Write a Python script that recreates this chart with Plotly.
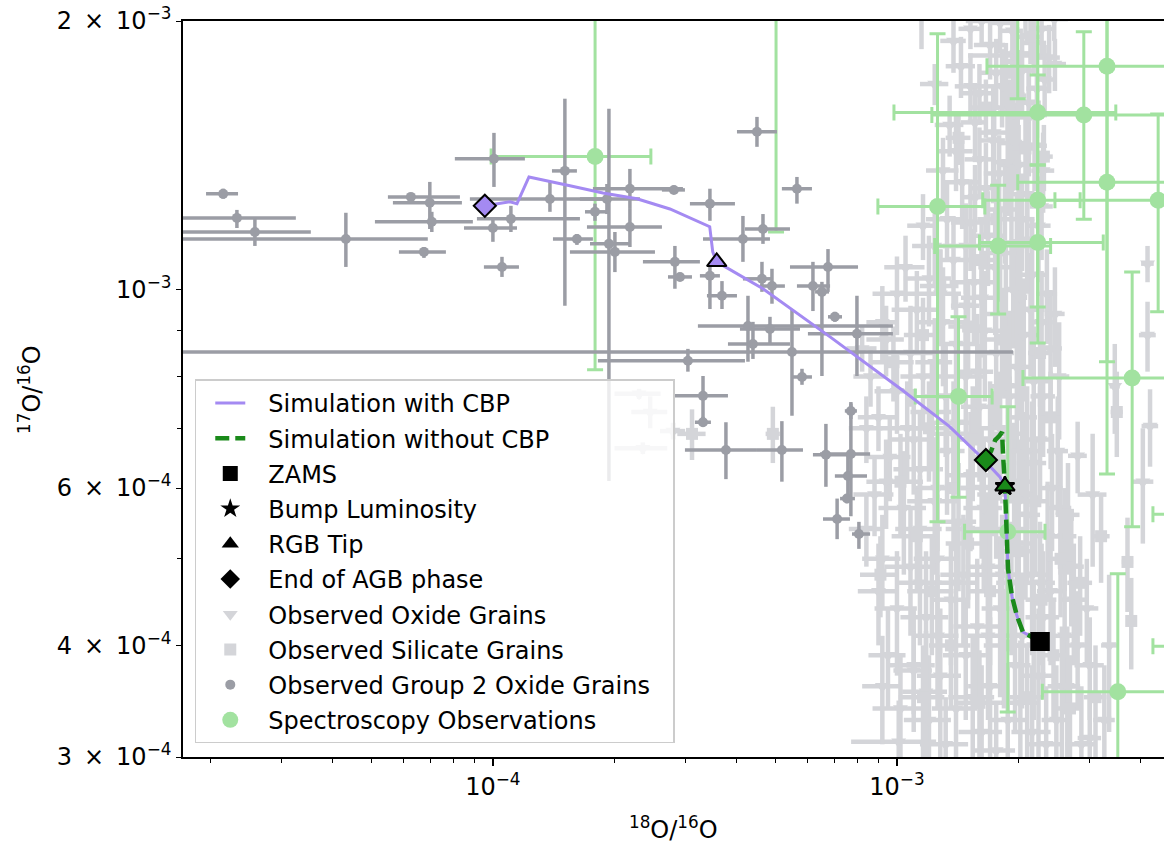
import math
import plotly.graph_objects as go

UNIT = 1e-4  # every isotope ratio below is listed in units of 10^-4

# ---------------- stellar model tracks (18O/16O, 17O/16O) ----------------
cbp_o18 = [22.6, 20.5, 19.8, 19.26, 18.83, 18.73, 18.62, 18.5, 18.0, 16.05,
           13.5, 10.24, 6.83, 4.66, 3.58, 3.50, 3.44, 3.31, 2.742, 2.272,
           1.872, 1.551, 1.285, 1.228, 1.147, 1.102, 0.955]
cbp_o17 = [4.04, 4.14, 4.32, 4.54, 4.87, 5.30, 5.79, 6.03, 6.17, 6.52,
           7.03, 7.74, 8.86, 10.03, 10.75, 11.03, 11.77, 11.86, 12.32, 12.65,
           12.84, 13.08, 13.31, 13.38, 12.49, 12.55, 12.42]
nocbp_o18 = [22.6, 20.5, 19.8, 19.26, 18.83, 18.73, 18.62, 18.5, 18.3, 18.2,
             17.9, 17.5, 17.1, 16.6]
nocbp_o17 = [4.04, 4.14, 4.32, 4.54, 4.87, 5.30, 5.79, 6.03, 6.55, 6.93,
             6.86, 6.79, 6.60, 6.45]
# index of each evolutionary stage along the tracks
cbp_stage = {"zams": 0, "bump": 7, "tip": 14, "agb": 26}
nocbp_stage = {"zams": 0, "bump": 7, "tip": 7, "agb": 13}

# ---------------- presolar oxide grains ----------------
oxide_o18 = [11.5, 15.2, 14.4, 17.0, 19.3, 20.4, 21.8, 23.8, 18.2, 16.0,
             22.2, 20.8, 24.5, 18.8, 13.5, 15.6, 17.4, 19.6, 21.2, 20.0,
             17.9, 16.0, 14.5, 15.6, 18.5, 21.0, 23.0, 13.3, 11.6, 16.8,
             19.8, 22.4, 14.8, 17.3, 19.0, 10.5, 12.0, 13.8, 15.5, 17.5,
             19.4, 21.6, 23.5, 11.2, 13.0, 14.8, 16.5, 18.6, 20.6, 22.8,
             9.4, 10.8, 12.4, 14.0, 15.8, 17.6, 19.8, 21.8, 24.0, 8.6,
             10.0, 13.2, 9.0, 10.6, 12.2, 14.1, 16.0, 18.0, 20.4, 22.6,
             9.6, 11.4, 13.3, 15.2, 17.2, 19.5, 21.6, 24.2, 8.8, 10.4,
             12.4, 14.2, 16.4, 18.7, 21.0, 23.6, 28.0, 42.3, 40.6, 41.7,
             41.7, 30.5, 34.6, 9.2, 10.8, 12.6, 14.6, 16.8, 19.2, 21.6,
             24.0, 27.0, 10.0, 11.8, 13.6, 15.8, 18.0, 20.4, 23.0, 26.0,
             29.5, 9.5, 11.0, 12.8, 14.8, 17.0, 19.6, 22.4, 25.6, 30.0,
             10.2, 12.0, 14.0, 16.2, 18.8, 21.6, 24.8, 28.6, 10.1, 11.0,
             33.5, 19.2, 20.2, 19.0, 20.8, 19.4, 19.5, 24.6, 2.45, 2.3,
             2.35, 2.79, 12.4, 13.8, 16.2, 18.0, 22.8, 19.8, 17.6, 21.2,
             15.2, 23.2, 19.9, 14.0, 16.6, 18.8, 21.9, 13.0, 22.8, 15.2,
             20.4, 12.4, 18.0, 10.0, 12.8, 16.2, 21.4, 24.6, 9.2, 11.6,
             14.8, 18.8, 23.0, 8.2, 25.2, 8.4, 11.0, 13.8, 17.0, 21.0,
             25.0, 9.4, 12.6, 16.2, 20.0, 25.4, 11.4, 15.0, 19.8, 26.0,
             8.4, 9.0, 11.4, 14.0, 18.2, 22.6, 27.4, 12.6, 16.8, 21.8,
             28.0, 9.2, 11.8, 15.4, 20.2, 26.4, 32.6, 13.2, 17.6, 23.4,
             30.0]
oxide_o17 = [20.8, 19.6, 17.8, 18.8, 19.5, 17.6, 18.9, 18.2, 16.9, 16.6,
             16.8, 20.4, 20.1, 15.8, 15.3, 15.4, 15.0, 14.6, 15.6, 13.8,
             13.5, 14.0, 13.2, 12.7, 12.3, 12.8, 13.6, 12.0, 11.8, 11.5,
             11.3, 11.8, 11.2, 14.7, 16.0, 10.6, 10.3, 10.8, 10.2, 10.6,
             10.0, 10.4, 9.9, 9.5, 9.2, 9.6, 9.0, 9.4, 8.9, 9.2,
             8.8, 8.5, 8.3, 8.7, 8.1, 8.5, 8.2, 7.9, 8.6, 8.0,
             7.7, 7.6, 7.2, 7.0, 7.3, 7.1, 7.4, 7.0, 7.2, 6.8,
             6.5, 6.3, 6.6, 6.2, 6.5, 6.1, 6.4, 6.0, 5.9, 5.7,
             5.8, 5.5, 5.7, 5.4, 5.6, 5.3, 6.52, 7.04, 6.10, 8.9,
             10.7, 5.9, 7.8, 5.0, 4.9, 5.0, 4.8, 4.9, 4.7, 4.8,
             4.6, 4.9, 4.4, 4.3, 4.5, 4.2, 4.4, 4.1, 4.3, 4.1,
             4.4, 3.9, 3.8, 3.7, 3.9, 3.6, 3.8, 3.7, 3.6, 3.8,
             3.4, 3.3, 3.4, 3.2, 3.3, 3.2, 3.3, 3.1, 3.12, 3.75,
             4.0, 13.0, 9.8, 7.6, 5.9, 18.0, 18.3, 17.9, 7.30, 7.65,
             6.65, 6.95, 17.0, 19.0, 20.0, 19.9, 19.6, 18.4, 17.5, 16.2,
             16.9, 17.2, 16.5, 14.3, 13.0, 13.9, 14.5, 13.6, 12.4, 11.9,
             12.0, 11.2, 11.0, 9.9, 9.9, 9.8, 9.5, 9.4, 9.2, 8.0,
             8.0, 7.8, 7.6, 8.6, 8.0, 7.0, 6.8, 6.9, 6.8, 6.6,
             6.6, 6.1, 6.0, 6.0, 5.8, 5.7, 5.4, 5.4, 5.2, 5.3,
             5.4, 4.6, 4.7, 4.7, 4.8, 4.7, 4.5, 4.1, 4.1, 4.0,
             4.0, 3.6, 3.55, 3.5, 3.45, 3.6, 3.3, 3.1, 3.05, 3.1,
             3.15]
oxide_o18_err = [0.5, 1.0, 1.2, 1.5, 1.2, 1.8, 1.6, 1.5, 1.4, 1.6,
                 1.3, 2.5, 2.0, 1.0, 1.1, 1.2, 1.5, 1.7, 1.6, 2.2,
                 1.5, 1.3, 1.4, 1.0, 1.8, 1.8, 1.5, 1.5, 1.0, 1.6,
                 2.0, 1.6, 1.8, 1.2, 1.4, 1.2, 1.6, 1.4, 2.0, 1.6,
                 1.8, 2.0, 1.4, 1.5, 1.8, 1.2, 1.8, 2.2, 1.8, 1.5,
                 1.0, 1.5, 1.3, 1.6, 1.5, 1.9, 1.6, 2.0, 1.6, 0.8,
                 1.2, 1.5, 1.0, 1.5, 1.4, 1.8, 1.6, 2.0, 1.8, 1.6,
                 1.2, 1.6, 1.4, 1.9, 1.6, 2.0, 1.8, 1.5, 1.0, 1.4,
                 1.8, 1.5, 1.8, 2.2, 1.6, 1.6, 1.5, 2.0, 2.5, 2.0,
                 1.5, 2.5, 1.0, 1.0, 1.5, 1.6, 1.8, 2.0, 1.6, 2.2,
                 1.8, 2.0, 1.2, 1.6, 1.5, 2.0, 1.8, 2.0, 2.2, 1.8,
                 2.0, 1.0, 1.4, 1.6, 1.8, 2.0, 1.8, 2.2, 2.0, 2.5,
                 1.5, 1.6, 1.8, 2.0, 2.0, 2.4, 2.0, 2.5, 2.4, 1.2,
                 1.5, 0.8, 0.8, 0.8, 0.8, 0.8, 4.5, 1.6, 0.25, 0.3,
                 0.35, 0.2, 1.0, 1.0, 1.4, 1.2, 1.5, 1.6, 1.5, 1.5,
                 1.3, 1.2, 1.0, 1.4, 1.5, 1.5, 1.6, 1.2, 1.5, 1.6,
                 1.5, 1.5, 1.8, 1.3, 1.6, 1.8, 1.8, 1.4, 0.8, 1.4,
                 1.6, 1.8, 1.6, 0.7, 1.5, 0.8, 1.5, 1.7, 1.8, 1.8,
                 1.5, 1.0, 1.6, 1.8, 2.0, 1.6, 1.5, 1.8, 2.0, 1.8,
                 0.8, 1.0, 1.5, 1.8, 2.0, 2.0, 2.2, 1.6, 2.0, 2.2,
                 2.2, 1.0, 1.5, 2.0, 2.2, 2.0, 2.0, 1.8, 2.0, 2.2,
                 2.0]
oxide_o17_err = [2.2, 1.0, 1.4, 1.6, 2.0, 1.8, 1.5, 1.6, 1.7, 1.3,
                 2.0, 1.2, 1.1, 1.2, 1.2, 1.5, 1.8, 1.6, 2.2, 1.5,
                 1.4, 1.2, 1.5, 1.1, 1.6, 1.8, 1.4, 1.2, 1.0, 1.4,
                 1.5, 1.6, 1.3, 2.2, 1.2, 0.9, 1.2, 1.3, 1.5, 1.7,
                 1.4, 1.6, 1.2, 1.0, 1.4, 1.6, 1.5, 1.8, 1.4, 1.3,
                 0.8, 1.1, 1.0, 1.2, 1.3, 1.5, 1.6, 1.2, 1.4, 0.6,
                 0.8, 1.1, 0.6, 0.9, 1.0, 1.2, 1.3, 1.1, 1.4, 1.0,
                 0.7, 1.0, 1.0, 1.1, 1.2, 1.0, 1.1, 0.9, 0.6, 0.9,
                 1.0, 0.9, 1.1, 1.0, 0.9, 0.8, 0.6, 0.7, 0.9, 0.8,
                 0.5, 1.0, 0.9, 0.6, 0.8, 0.9, 0.8, 1.0, 0.8, 0.9,
                 0.8, 0.7, 0.7, 0.8, 0.7, 0.8, 0.9, 0.7, 0.8, 0.7,
                 0.6, 0.5, 0.6, 0.7, 0.6, 0.7, 0.6, 0.7, 0.6, 0.5,
                 0.5, 0.6, 0.5, 0.6, 0.5, 0.6, 0.5, 0.5, 0.35, 0.4,
                 0.8, 3.0, 2.6, 1.8, 1.4, 2.5, 0.6, 1.2, 0.3, 0.1,
                 0.1, 0.15, 0.9, 1.5, 1.2, 1.5, 1.4, 1.8, 1.6, 1.5,
                 1.5, 1.6, 2.0, 1.4, 1.6, 1.8, 1.6, 1.2, 1.6, 1.4,
                 1.5, 1.1, 1.3, 1.0, 1.2, 1.4, 1.5, 1.2, 0.9, 1.0,
                 1.2, 1.3, 1.1, 0.5, 1.2, 0.6, 0.9, 1.0, 1.1, 1.2,
                 1.0, 0.7, 0.9, 1.0, 1.0, 0.9, 0.8, 0.9, 0.9, 0.7,
                 0.5, 0.6, 0.7, 0.8, 0.8, 0.8, 0.7, 0.7, 0.8, 0.7,
                 0.6, 0.5, 0.6, 0.6, 0.6, 0.6, 0.5, 0.4, 0.4, 0.5,
                 0.4]

# ---------------- presolar silicate grains ----------------
silicate_o18 = [23.1, 18.6, 21.4, 16.6, 14.2, 17.6, 20.8, 12.8, 16.2, 21.0,
                11.6, 15.0, 18.2, 22.6, 9.8, 3.11, 4.93, 12.0, 15.4, 19.0,
                24.0, 10.2, 13.8, 17.6, 22.0, 26.5, 11.2, 15.0, 20.0, 25.4,
                32.0, 12.2, 17.0, 22.8, 28.4, 38.0, 13.6, 18.4, 24.4, 31.0,
                11.6, 16.0, 21.0, 26.8, 37.2, 9.1, 35.0]
silicate_o17 = [14.1, 17.5, 19.2, 16.0, 14.8, 12.0, 14.4, 10.1, 10.8, 11.3,
                8.9, 9.1, 8.8, 8.5, 8.3, 6.90, 6.90, 7.0, 6.8, 6.9,
                7.2, 6.1, 6.0, 5.9, 5.8, 5.6, 5.3, 5.2, 5.1, 5.0,
                5.3, 4.6, 4.6, 4.5, 4.7, 4.26, 4.0, 4.0, 3.9, 3.5,
                3.5, 3.45, 3.5, 3.4, 4.96, 4.8, 7.3]
silicate_o18_err = [1.2, 1.6, 1.4, 1.3, 1.0, 1.8, 1.5, 1.4, 1.5, 1.7,
                    1.2, 1.6, 1.8, 1.5, 1.2, 0.25, 0.2, 1.6, 1.8, 2.0,
                    1.4, 1.4, 1.6, 1.8, 1.8, 1.8, 1.5, 1.8, 2.0, 2.0,
                    1.6, 1.6, 2.0, 2.0, 2.0, 1.0, 1.6, 2.0, 2.2, 2.0,
                    1.5, 2.0, 2.0, 2.0, 1.2, 1.0, 1.2]
silicate_o17_err = [1.2, 1.4, 1.3, 1.2, 1.0, 1.3, 1.2, 1.0, 1.2, 1.4,
                    0.9, 1.1, 1.2, 1.1, 0.8, 0.45, 0.5, 0.9, 1.0, 1.1,
                    0.9, 0.8, 0.9, 0.9, 1.0, 0.8, 0.7, 0.8, 0.8, 0.7,
                    0.6, 0.7, 0.8, 0.7, 0.6, 0.5, 0.6, 0.6, 0.6, 0.5,
                    0.5, 0.5, 0.5, 0.5, 0.6, 0.5, 0.8]

# ---------------- Group 2 oxide grains (value, lower, upper) ----------------
g2_o18 = [0.215, 0.2325, 0.2576, 0.4326, 0.675, 0.6266, 0.698, 0.706, 1.006, 1.0,
          1.108, 1.053, 1.507, 1.384, 1.614, 1.789, 1.937, 1.915, 2.004, 2.183,
          2.805, 2.183, 4.503, 5.655, 3.444, 2.821, 2.904, 3.689, 4.157, 4.633,
          6.195, 6.75, 6.52, 7.02, 4.278, 4.849, 4.401, 5.497, 7.96, 3.038,
          5.82, 3.311, 3.311, 3.773, 5.19, 7.69, 6.67, 7.69, 7.56, 7.52,
          7.11, 8.05, 4.66, 4.905, 3.444]
g2_o18_lo = [0.195, 0.159, 0.159, 0.159, 0.5853, 0.5497, 0.5656, 0.5105, 0.805, 0.848,
             0.913, 0.95, 1.40, 0.877, 1.408, 1.69, 1.739, 1.642, 1.551, 1.768,
             2.62, 1.709, 4.018, 5.19, 3.073, 2.351, 2.712, 3.386, 3.311, 4.157,
             5.655, 5.435, 6.27, 6.75, 3.216, 4.087, 3.817, 0.159, 6.02, 1.819,
             5.497, 2.79, 3.162, 2.987, 4.503, 7.43, 6.195, 6.45, 7.02, 7.23,
             6.56, 7.74, 4.205, 4.58, 3.253]
g2_o18_hi = [0.234, 0.3253, 0.3543, 0.690, 0.765, 0.8286, 0.838, 0.892, 1.20, 1.147,
             1.642, 1.16, 1.614, 1.872, 1.768, 1.948, 2.183, 2.312, 2.518, 2.953,
             2.987, 2.62, 5.047, 6.16, 3.972, 3.253, 3.109, 4.018, 4.849, 4.933,
             6.83, 8.01, 6.79, 7.31, 9.77, 5.754, 5.435, 19.37, 9.77, 4.205,
             6.16, 3.817, 3.464, 4.503, 5.853, 7.96, 7.65, 8.58, 8.43, 7.87,
             7.65, 8.58, 5.435, 5.28, 3.646]
g2_o17 = [12.81, 12.04, 11.61, 11.40, 11.03, 12.71, 12.52, 11.92, 14.02, 11.73,
          12.01, 10.61, 13.59, 12.64, 11.40, 12.23, 11.26, 12.64, 11.03, 12.98,
          12.94, 11.76, 15.03, 12.98, 12.49, 10.75, 10.34, 9.85, 11.40, 10.29,
          10.10, 10.61, 9.95, 9.33, 9.11, 9.04, 8.70, 8.52, 8.93, 8.33,
          7.99, 7.61, 7.11, 6.62, 6.62, 7.32, 6.54, 6.55, 6.19, 5.84,
          5.54, 5.33, 11.70, 10.10, 10.37]
g2_o17_lo = [12.65, 11.73, 11.20, 10.61, 10.86, 12.61, 11.70, 11.61, 13.04, 11.32,
             11.61, 10.34, 9.60, 12.23, 11.23, 11.95, 6.11, 12.16, 10.47, 12.32,
             12.81, 11.17, 14.46, 12.49, 11.95, 10.03, 10.23, 9.52, 10.75, 9.95,
             9.47, 9.95, 8.01, 9.21, 8.31, 8.70, 8.37, 7.23, 8.01, 8.10,
             7.83, 7.11, 7.03, 6.14, 6.10, 7.17, 6.02, 5.58, 5.84, 5.77,
             5.26, 5.13, 11.26, 9.65, 9.52]
g2_o17_hi = [12.98, 12.29, 12.01, 12.20, 11.17, 12.81, 13.21, 12.23, 14.99, 11.98,
             12.42, 10.89, 16.37, 13.21, 11.55, 12.49, 15.95, 13.14, 11.61, 13.66,
             13.08, 12.32, 15.62, 13.38, 12.98, 11.20, 10.45, 10.23, 12.10, 10.75,
             10.75, 11.11, 10.21, 9.45, 9.85, 9.33, 9.21, 9.52, 9.85, 8.59,
             8.16, 8.01, 7.21, 7.11, 7.13, 7.46, 7.08, 7.49, 6.55, 5.90,
             5.84, 5.50, 12.16, 10.56, 10.64]

# ---------------- spectroscopic stellar ratios (value, lower, upper) ----------------
spec_o18 = [1.79, 12.6, 22.3, 29.0, 33.1, 33.1, 22.3, 44.3, 17.8, 22.3,
            14.2, 38.2, 18.8, 35.2, 5.02, 19.9, 60.0, 58.0]
spec_o18_lo = [0.99, 8.97, 9.83, 12.2, 16.7, 19.9, 16.3, 24.6, 12.4, 16.0,
               11.1, 20.5, 14.7, 22.9, 4.6, 18.5, 43.0, 43.0]
spec_o18_hi = [2.46, 16.5, 34.8, 53.0, 75.0, 75.0, 28.4, 80.0, 24.0, 32.4,
               17.2, 80.0, 23.25, 80.0, 5.5, 21.5, 80.0, 78.0]
spec_o17 = [14.1, 12.4, 15.8, 15.7, 17.8, 13.2, 12.6, 12.6, 11.2, 11.3,
            7.6, 7.97, 5.36, 3.55, 24.0, 23.0, 5.61, 3.99]
spec_o17_lo = [8.14, 5.50, 13.8, 12.0, 8.31, 6.22, 9.57, 9.45, 9.40, 8.72,
               5.86, 5.43, 3.37, 2.5, 11.61, 16.37, 5.3, 3.8]
spec_o17_hi = [26.0, 19.35, 17.4, 19.45, 24.0, 22.0, 22.5, 15.74, 13.1, 13.8,
               9.33, 10.47, 7.40, 4.81, 30.0, 30.0, 5.9, 4.2]

# ---------------- axis ticks ----------------
SP = "\u2002"  # wide gap around the multiplication sign
x_major = [1e-4, 1e-3]
x_major_text = ["10<sup>\u22124</sup>", "10<sup>\u22123</sup>"]
x_minor = [m * d for d in (1e-5, 1e-4, 1e-3) for m in range(2, 10)]
y_major = [3e-4, 4e-4, 6e-4, 1e-3, 2e-3]
y_major_text = ["3" + SP + "\u00d7" + SP + "10<sup>\u22124</sup>",
                "4" + SP + "\u00d7" + SP + "10<sup>\u22124</sup>",
                "6" + SP + "\u00d7" + SP + "10<sup>\u22124</sup>",
                "10<sup>\u22123</sup>",
                "2" + SP + "\u00d7" + SP + "10<sup>\u22123</sup>"]
y_minor = [5e-4, 7e-4, 8e-4, 9e-4]

X_RANGE = (1.71e-5, 4.58e-3)
Y_RANGE = (3e-4, 2e-3)

# ---------------- styling ----------------
PURPLE = "#a48af2"
DKGREEN = "#1a8a1a"
SPEC_GREEN = "#a2e2a0"
G2_GRAY = "#9b9da5"
LIGHT_GRAY = "#d4d5d9"
FONT = "DejaVu Sans"
FS = 24
LEGEND_PAD = "\u2002\u2005"  # gap between legend key and label


def label(text):
    return LEGEND_PAD + text + LEGEND_PAD


def scaled(vals):
    return [v * UNIT for v in vals]


def err_sym(errs, color, thick=3, cap=0):
    return dict(type="data", array=scaled(errs), color=color,
                thickness=thick, width=cap)


def err_bounds(vals, lo, hi, color, thick=3, cap=0):
    plus = [(h - v) * UNIT for v, h in zip(vals, hi)]
    minus = [(v - l) * UNIT for v, l in zip(vals, lo)]
    return dict(type="data", symmetric=False, array=plus, arrayminus=minus,
                color=color, thickness=thick, width=cap)


fig = go.Figure()

# grains and stars
fig.add_trace(go.Scatter(
    x=scaled(oxide_o18), y=scaled(oxide_o17), mode="markers",
    name=label("Observed Oxide Grains"), legendgroup="ox", legendrank=7,
    marker=dict(symbol="triangle-down", size=13, color=LIGHT_GRAY),
    error_x=err_sym(oxide_o18_err, LIGHT_GRAY, 4.5),
    error_y=err_sym(oxide_o17_err, LIGHT_GRAY, 4.5)))
fig.add_trace(go.Scatter(
    x=scaled(silicate_o18), y=scaled(silicate_o17), mode="markers",
    name=label("Observed Silicate Grains"), legendgroup="si", legendrank=8,
    marker=dict(symbol="square", size=12, color=LIGHT_GRAY),
    error_x=err_sym(silicate_o18_err, LIGHT_GRAY, 4.5),
    error_y=err_sym(silicate_o17_err, LIGHT_GRAY, 4.5)))
fig.add_trace(go.Scatter(
    x=scaled(spec_o18), y=scaled(spec_o17), mode="markers",
    name=label("Spectroscopy Observations"), legendgroup="sp", legendrank=10,
    marker=dict(symbol="circle", size=17, color=SPEC_GREEN),
    error_x=err_bounds(spec_o18, spec_o18_lo, spec_o18_hi, SPEC_GREEN, 3, 8),
    error_y=err_bounds(spec_o17, spec_o17_lo, spec_o17_hi, SPEC_GREEN, 3, 8)))
fig.add_trace(go.Scatter(
    x=scaled(g2_o18), y=scaled(g2_o17), mode="markers",
    name=label("Observed Group 2 Oxide Grains"), legendgroup="g2", legendrank=9,
    marker=dict(symbol="circle", size=10, color=G2_GRAY),
    error_x=err_bounds(g2_o18, g2_o18_lo, g2_o18_hi, G2_GRAY, 3.5),
    error_y=err_bounds(g2_o17, g2_o17_lo, g2_o17_hi, G2_GRAY, 3.5)))

# model tracks
fig.add_trace(go.Scatter(
    x=scaled(cbp_o18), y=scaled(cbp_o17), mode="lines",
    name=label("Simulation with CBP"), legendgroup="cbp", legendrank=1,
    line=dict(color=PURPLE, width=3)))
fig.add_trace(go.Scatter(
    x=scaled(nocbp_o18), y=scaled(nocbp_o17), mode="lines",
    name=label("Simulation without CBP"), legendgroup="nocbp", legendrank=2,
    line=dict(color=DKGREEN, width=4.5, dash="14px,6px")))

# stage markers on each track
stage_symbols = {"zams": ("square", 17), "bump": ("star", 14),
                 "tip": ("triangle-up", 17), "agb": ("diamond", 17)}
for xs, ys, stages, color in ((cbp_o18, cbp_o17, cbp_stage, PURPLE),
                              (nocbp_o18, nocbp_o17, nocbp_stage, DKGREEN)):
    for key in ("bump", "tip", "agb", "zams"):
        sym, size = stage_symbols[key]
        i = stages[key]
        fill = "black" if key == "zams" else color
        fig.add_trace(go.Scatter(
            x=[xs[i] * UNIT], y=[ys[i] * UNIT], mode="markers", showlegend=False,
            marker=dict(symbol=sym, size=size, color=fill,
                        line=dict(color="black", width=2))))

# legend keys for the stages
legend_keys = [("ZAMS", "square", 3), ("Bump Luminosity", "star", 4),
               ("RGB Tip", "triangle-up", 5), ("End of AGB phase", "diamond", 6)]
for text, sym, rank in legend_keys:
    fig.add_trace(go.Scatter(
        x=[None], y=[None], mode="markers", name=label(text),
        legendgroup=text, legendrank=rank,
        marker=dict(symbol=sym, size=15, color="black")))

fig.update_layout(
    width=1164, height=845,
    margin=dict(l=183, r=0, t=21, b=88),
    paper_bgcolor="white", plot_bgcolor="white",
    font=dict(family=FONT, size=FS, color="black"),
    legend=dict(x=0.012, y=0.513, xanchor="left", yanchor="top",
                bgcolor="rgba(255,255,255,0.8)", bordercolor="#cccccc",
                borderwidth=1.5, font=dict(family=FONT, size=FS, color="black"),
                tracegroupgap=1, itemwidth=30, indentation=14),
    annotations=[
        dict(text="<sup>18</sup>O/<sup>16</sup>O", xref="paper", yref="paper",
             x=0.5, y=-0.0965, xanchor="center", yanchor="middle",
             showarrow=False, font=dict(family=FONT, size=FS, color="black")),
        dict(text="<sup>17</sup>O/<sup>16</sup>O", xref="paper", yref="paper",
             x=-0.156, y=0.5, xanchor="center", yanchor="middle", textangle=-90,
             showarrow=False, font=dict(family=FONT, size=FS, color="black")),
    ],
)
fig.update_xaxes(
    type="log", range=[math.log10(X_RANGE[0]), math.log10(X_RANGE[1])],
    showline=True, linecolor="black", linewidth=1.6, mirror=True,
    showgrid=False, zeroline=False,
    ticks="outside", ticklen=7, tickwidth=1.6, tickcolor="black",
    tickmode="array", tickvals=x_major, ticktext=x_major_text,
    tickfont=dict(family=FONT, size=FS, color="black"),
    minor=dict(ticks="outside", ticklen=4, tickwidth=1.2, tickcolor="black",
               tickmode="array", tickvals=x_minor, showgrid=False))
fig.update_yaxes(
    type="log", range=[math.log10(Y_RANGE[0]), math.log10(Y_RANGE[1])],
    showline=True, linecolor="black", linewidth=1.6, mirror=False,
    showgrid=False, zeroline=False,
    ticks="outside", ticklen=5, tickwidth=1.4, tickcolor="black",
    tickmode="array", tickvals=y_major, ticktext=y_major_text,
    tickfont=dict(family=FONT, size=FS, color="black"),
    minor=dict(ticks="outside", ticklen=4, tickwidth=1.2, tickcolor="black",
               tickmode="array", tickvals=y_minor, showgrid=False))

fig.write_html("out.html")
